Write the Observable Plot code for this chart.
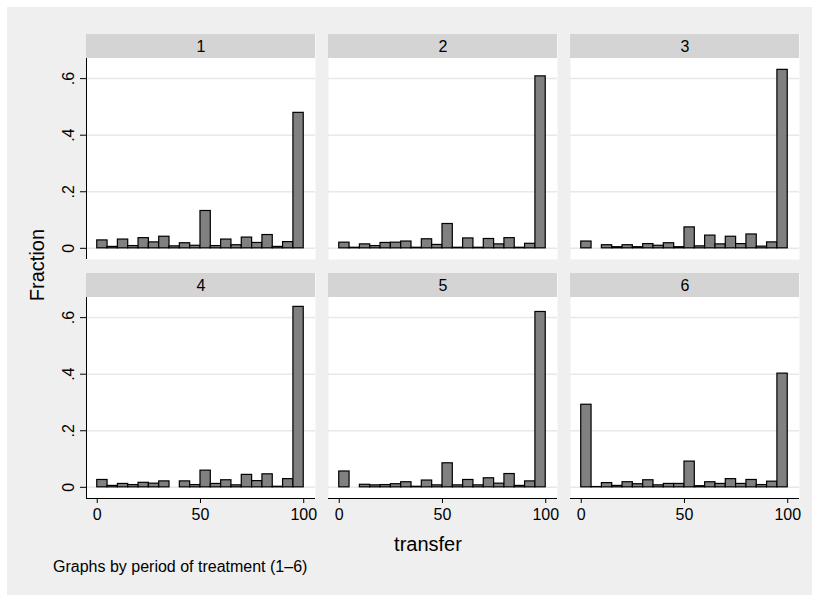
<!DOCTYPE html>
<html><head><meta charset="utf-8">
<script src="https://cdn.jsdelivr.net/npm/d3@7"></script>
<script src="https://cdn.jsdelivr.net/npm/@observablehq/plot@0.6"></script>
<style>
body{margin:0;background:#fff;}
#wrap{position:relative;width:819px;height:596px;font-family:"Liberation Sans",Arial,sans-serif;overflow:hidden;}
#bg{position:absolute;left:7px;top:7px;right:7px;bottom:1px;background:#efefef;}
#chart{position:absolute;left:0;top:0;}
.lbl{position:absolute;color:#000;white-space:nowrap;line-height:1;}
#ytitle{left:37px;top:265px;font-size:20px;transform:translate(-50%,-50%) rotate(-90deg);}
#xtitle{left:428px;top:544px;font-size:20px;transform:translate(-50%,-50%);}
#note{left:53px;top:567px;font-size:16px;transform:translate(0,-50%);}
</style></head><body>
<div id="wrap"><div id="bg"></div><div id="chart"></div>
<div class="lbl" id="ytitle">Fraction</div>
<div class="lbl" id="xtitle">transfer</div>
<div class="lbl" id="note">Graphs by period of treatment (1–6)</div>
</div>
<script>
const periods = [1, 2, 3, 4, 5, 6];
const binStarts = [0, 5, 10, 15, 20, 25, 30, 35, 40, 45, 50, 55, 60, 65, 70, 75, 80, 85, 90, 95];
const binWidth = 5;
const period1 = [0.028,0.005,0.031,0.008,0.036,0.021,0.041,0.007,0.018,0.009,0.132,0.008,0.031,0.011,0.038,0.019,0.047,0.005,0.022,0.479];
const period2 = [0.020,0.002,0.014,0.008,0.019,0.020,0.024,0.002,0.032,0.012,0.086,0.002,0.035,0.002,0.033,0.014,0.036,0.002,0.016,0.608];
const period3 = [0.024,0,0.011,0.004,0.011,0.004,0.015,0.009,0.018,0.004,0.074,0.007,0.045,0.014,0.041,0.015,0.049,0.006,0.021,0.631];
const period4 = [0.026,0.005,0.012,0.008,0.016,0.013,0.021,0,0.021,0.008,0.059,0.012,0.025,0.007,0.044,0.022,0.046,0.002,0.029,0.638];
const period5 = [0.056,0,0.009,0.007,0.008,0.011,0.018,0.002,0.024,0.007,0.085,0.007,0.026,0.007,0.032,0.013,0.047,0.005,0.021,0.620];
const period6 = [0.292,0.001,0.015,0.005,0.018,0.011,0.025,0.007,0.012,0.012,0.091,0.004,0.018,0.012,0.029,0.012,0.026,0.008,0.020,0.402];
const yTicks = [0, 0.2, 0.4, 0.6];
const xTicks = [0, 50, 100];

const series = [period1, period2, period3, period4, period5, period6];
const panels = periods.map((p, i) => ({period: p, col: i % 3, row: Math.floor(i / 3)}));
const bars = [];
panels.forEach((pn, i) => {
  series[i].forEach((v, j) => {
    if (v > 0) bars.push({col: pn.col, row: pn.row, x0: binStarts[j], x1: binStarts[j] + binWidth, frac: v});
  });
});

const xDom = [-5.2, 105.7];
const yDom = [-0.0395, 0.756];
const stripBottom = 0.671;
const fmtY = d => d === 0 ? "0" : d3.format(".1f")(d).replace(/^0/, "");

const chart = Plot.plot({
  width: 819, height: 596,
  marginLeft: 86, marginRight: 19, marginTop: 33, marginBottom: 98,
  style: {background: "transparent", fontFamily: "Liberation Sans, Arial, sans-serif", fontSize: "16px", color: "black"},
  fx: {domain: [0, 1, 2], paddingInner: 0.052, paddingOuter: 0, axis: null},
  fy: {domain: [0, 1], paddingInner: 0.0586, paddingOuter: 0, axis: null},
  x: {domain: xDom},
  y: {domain: yDom},
  marks: [
    Plot.frame({fill: "white", stroke: null}),
    Plot.gridY(yTicks, {stroke: "#e8e8e8", strokeOpacity: 1, strokeWidth: 1.5}),
    Plot.rect([0], {x1: xDom[0], x2: xDom[1], y1: stripBottom, y2: yDom[1], fill: "#d4d4d4"}),
    Plot.text(panels, {fx: "col", fy: "row", text: d => String(d.period), frameAnchor: "top", lineAnchor: "middle", dy: 12, fontSize: 16}),
    Plot.rect(bars, {fx: "col", fy: "row", x1: "x0", x2: "x1", y1: 0, y2: "frac", fill: "#808080", stroke: "black", strokeWidth: 1.2}),
    Plot.ruleX([0, 1], {fx: d => 0, fy: d => d, x: xDom[0], y1: yDom[0], y2: stripBottom, stroke: "black", strokeWidth: 1}),
    Plot.ruleY([0, 1, 2], {fx: d => d, fy: d => 1, y: yDom[0], x1: xDom[0], x2: xDom[1], stroke: "black", strokeWidth: 1}),
    Plot.axisY(yTicks, {anchor: "left", tickSize: 6, tickRotate: -90, tickPadding: 7, tickFormat: fmtY, fontSize: 16, label: null}),
    Plot.axisX(xTicks, {anchor: "bottom", tickSize: 5, tickPadding: 5, fontSize: 16, label: null})
  ]
});
document.getElementById("chart").appendChild(chart);
</script>
</body></html>
